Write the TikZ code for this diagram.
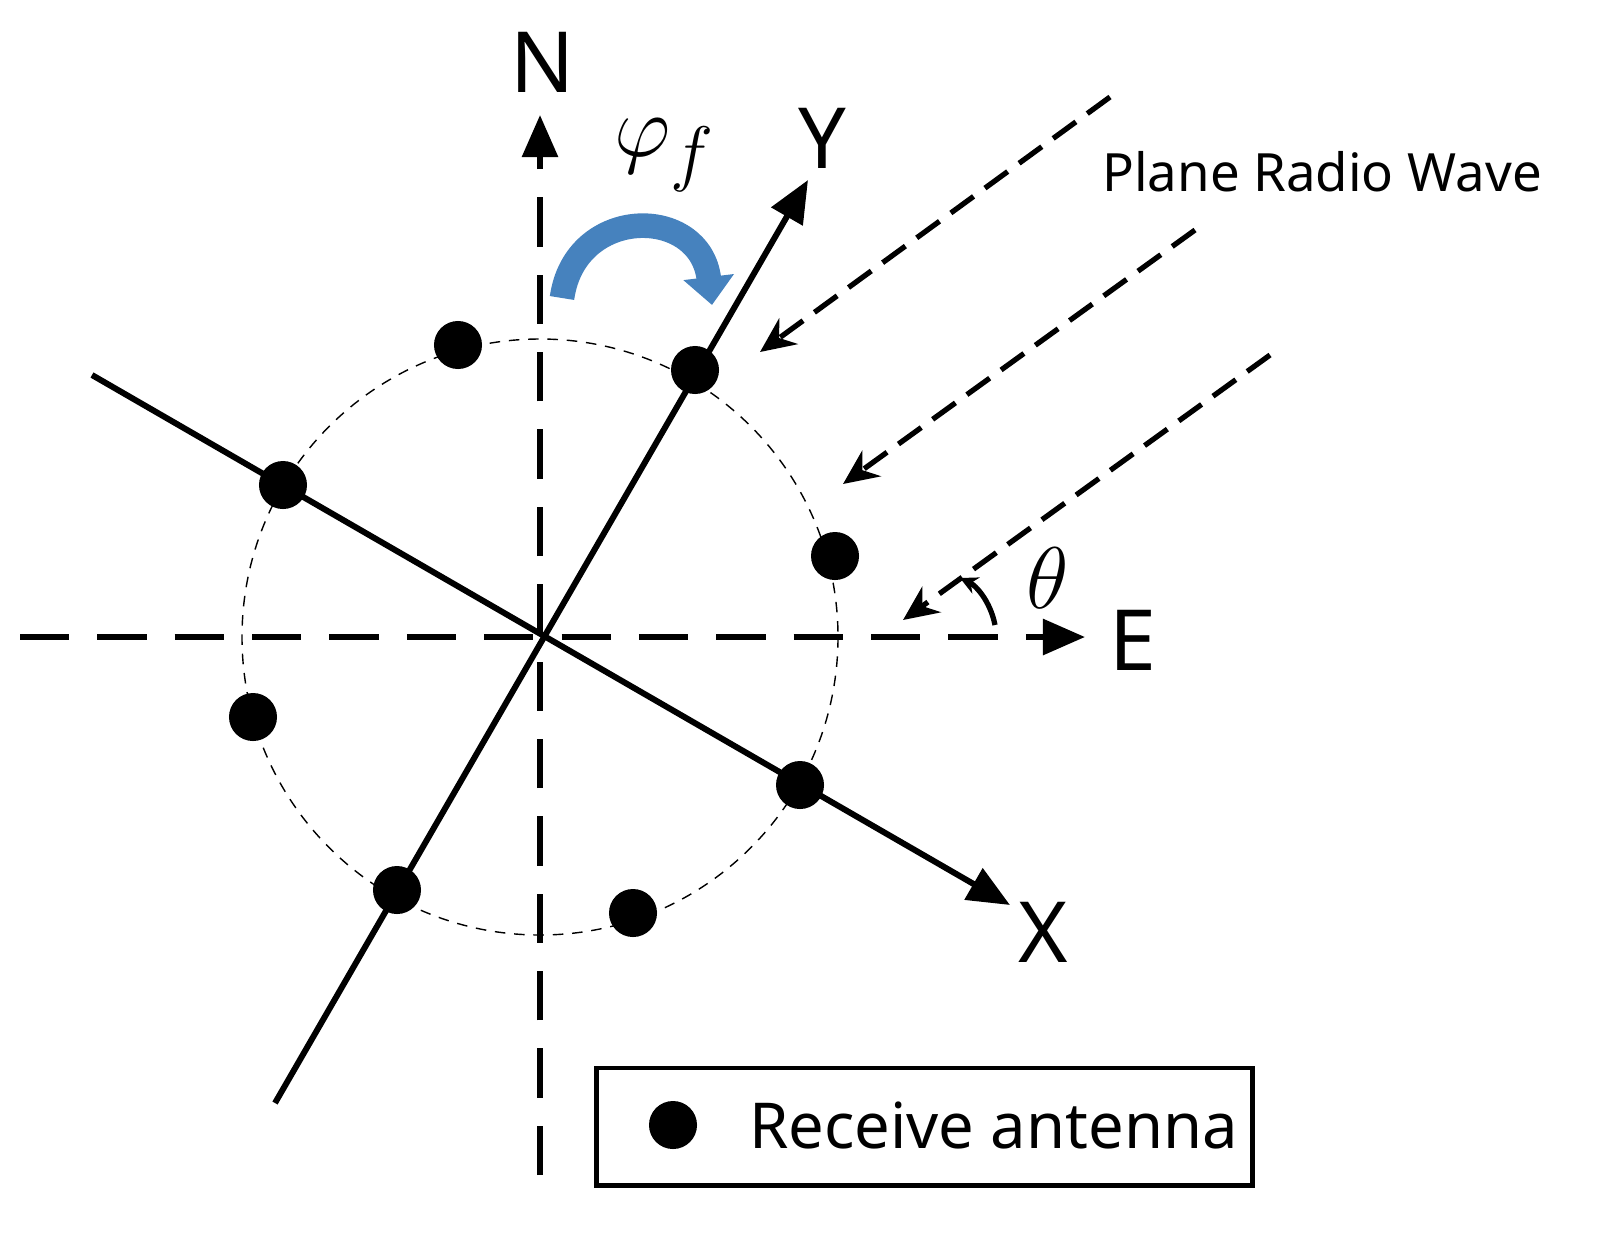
\documentclass[tikz,border=0pt]{standalone}
\usepackage{fontspec}
\setmainfont{Noto Sans}
\usetikzlibrary{positioning,arrows.meta}
\begin{document}
\begin{tikzpicture}[x=0.01cm,y=-0.01cm,>={Triangle[length=12pt,width=10pt]},semithick]
    \tikzstyle{every node}=[inner sep=0pt]
    \tikzstyle{axis}=[line width=1.7pt]
    \tikzstyle{wave}=[line width=1.5pt,dash pattern=on 8pt off 4pt,-{Stealth[length=10pt,width=9pt]}]
    \useasboundingbox (0,0) rectangle (1607,1245);
    \coordinate (O) at (540,637);
    % axes
    \draw[axis,dash pattern=on 14pt off 8pt] (540,1175) coordinate (Ns) -- (540,150);
    \draw[axis,->] (540,160) -- (540,115) coordinate (Ne);
    \draw[axis,dash pattern=on 14pt off 8pt] (20,637) coordinate (Es) -- (1040,637);
    \draw[axis,->] (1040,637) -- (1085,637) coordinate (Ee);
    \draw[axis,->] (275,1103) coordinate (Ys) -- (808,180) coordinate (Ye);
    \draw[axis,->] (92,375) coordinate (Xs) -- (1010,905) coordinate (Xe);
    \node (N) at (543,62) {\fontsize{24}{24}\selectfont\bfseries N};
    \node (E) at (1133,640) {\fontsize{24}{24}\selectfont E};
    \node (Y) at (822,138) {\fontsize{24}{24}\selectfont Y};
    \node (X) at (1043,932) {\fontsize{24}{24}\selectfont X};
    % array circle
    \draw[thin,dash pattern=on 3pt off 2.5pt] (O) circle[radius=298];
    \foreach \p [count=\i] in {(458,345),(695,370),(283,485),(835,556),(253,717),(800,785),(397,890),(633,913)}
        \node[circle,fill=black,minimum size=0.48cm] (a\i) at \p {};
    % incoming wave
    \draw[wave] (1110,97) -- (760,352);
    \draw[wave] (1195,230) -- (843,484);
    \draw[wave] (1270,355) -- (903,620);
    \node (wave) at (1322,172) {\fontsize{15}{15}\selectfont Plane Radio Wave};
    \draw[line width=1.5pt,-{Stealth[length=5pt,width=5pt]}] (995,625) .. controls (990,600) and (975,585) .. (960,578);
    \node (theta) at (1048,578) {\fontsize{24}{24}\selectfont$\theta$};
    % bearing arrow
    \draw[line width=7pt,color={rgb,255:red,70;green,130;blue,190},-{Triangle[length=8pt,width=14pt]}] (562,298) .. controls (575,205) and (700,205) .. (712,305);
    \node (phi) at (665,155) {\fontsize{28}{28}\selectfont$\varphi_f$};
    % legend
    \node[draw,line width=1.4pt,minimum width=6.55cm,minimum height=1.17cm] (leg) at (924.5,1126.5) {};
    \node[circle,fill=black,minimum size=0.48cm] (legdot) at (673,1125) {};
    \node[right=0.5cm of legdot] (legtxt) {\fontsize{18}{18}\selectfont Receive antenna};
\end{tikzpicture}
\end{document}
